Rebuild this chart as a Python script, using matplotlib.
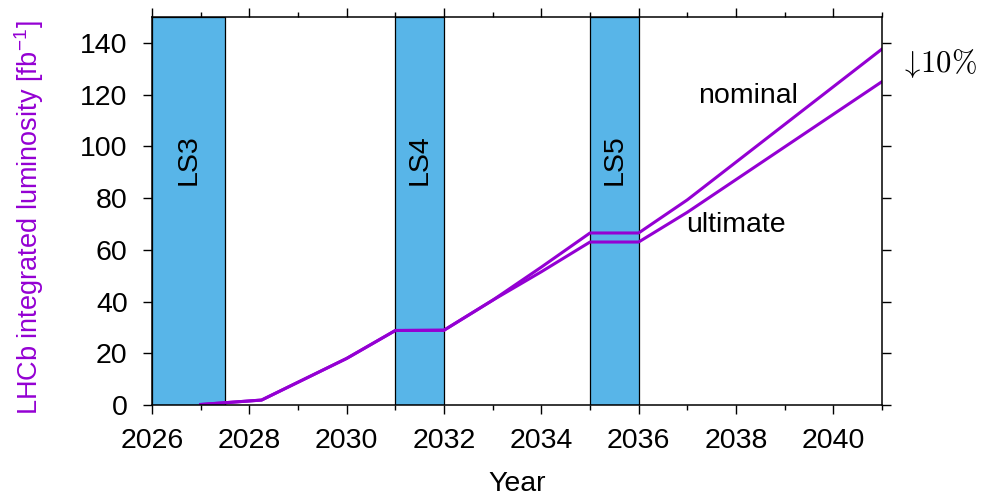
import matplotlib
matplotlib.use('Agg')
import matplotlib.pyplot as plt
from matplotlib.ticker import MultipleLocator

plt.rcParams['font.family'] = ['Liberation Sans', 'DejaVu Sans']
plt.rcParams['mathtext.fontset'] = 'cm'

# integrated luminosity projections (fb^-1)
years_nom = [2027, 2028.25, 2030, 2031, 2032, 2033, 2034, 2035, 2036, 2037, 2041]
lumi_nom = [0.2, 1.9, 18.0, 28.8, 28.9, 40.5, 53.3, 66.5, 66.5, 79.3, 137.6]
years_ult = [2027, 2028.25, 2030, 2031, 2032, 2033, 2034, 2035, 2036, 2037, 2041]
lumi_ult = [0.2, 1.9, 18.0, 28.8, 28.9, 40.5, 51.5, 63.0, 63.0, 74.5, 125.0]

# long shutdowns
shutdowns = ['LS3', 'LS4', 'LS5']
ls_start = [2026, 2031, 2035]
ls_end = [2027.5, 2032, 2036]

purple = '#9400D3'
sky = '#58B5E8'
fs = 20.5

fig = plt.figure(figsize=(9.81, 4.96), dpi=100)
ax = fig.add_axes([0.155, 0.1835, 0.744, 0.7822])

for name, a, b in zip(shutdowns, ls_start, ls_end):
    ax.axvspan(a, b, ymin=0, ymax=1, facecolor=sky, edgecolor='black', lw=0.9, zorder=1)
    ax.text((a + b) / 2, 95, name, rotation=90, ha='center', va='center', fontsize=fs, zorder=3)

ax.plot(years_nom, lumi_nom, color=purple, lw=2.2, zorder=4)
ax.plot(years_ult, lumi_ult, color=purple, lw=2.2, zorder=4)

ax.text(2038.25, 119.5, 'nominal', ha='center', va='center', fontsize=fs)
ax.text(2038.0, 69.5, 'ultimate', ha='center', va='center', fontsize=fs)
fig.text(0.996, 0.872, r'$\downarrow\!10\%$', ha='right', va='center', fontsize=22)

ax.set_xlim(2026, 2041)
ax.set_ylim(0, 150)
ax.xaxis.set_major_locator(MultipleLocator(2))
ax.xaxis.set_minor_locator(MultipleLocator(1))
ax.set_yticks(range(0, 141, 20))

ax.tick_params(which='both', direction='out', top=True, right=True, labelsize=fs, width=1.0)
ax.tick_params(which='major', length=6.5)
ax.tick_params(which='minor', length=3.6)
ax.tick_params(axis='y', pad=11)
ax.tick_params(axis='x', pad=10)
for s in ax.spines.values():
    s.set_linewidth(1.1)
    s.set_zorder(5)

ax.set_xlabel('Year', fontsize=fs)
ax.xaxis.set_label_coords(0.5, -0.17)
ax.set_ylabel(r'LHCb integrated luminosity [fb$^{\mathregular{-1}}$]', fontsize=19.5, color=purple)
ax.yaxis.set_label_coords(-0.145, 0.483)

fig.savefig('out.png', dpi=100)
